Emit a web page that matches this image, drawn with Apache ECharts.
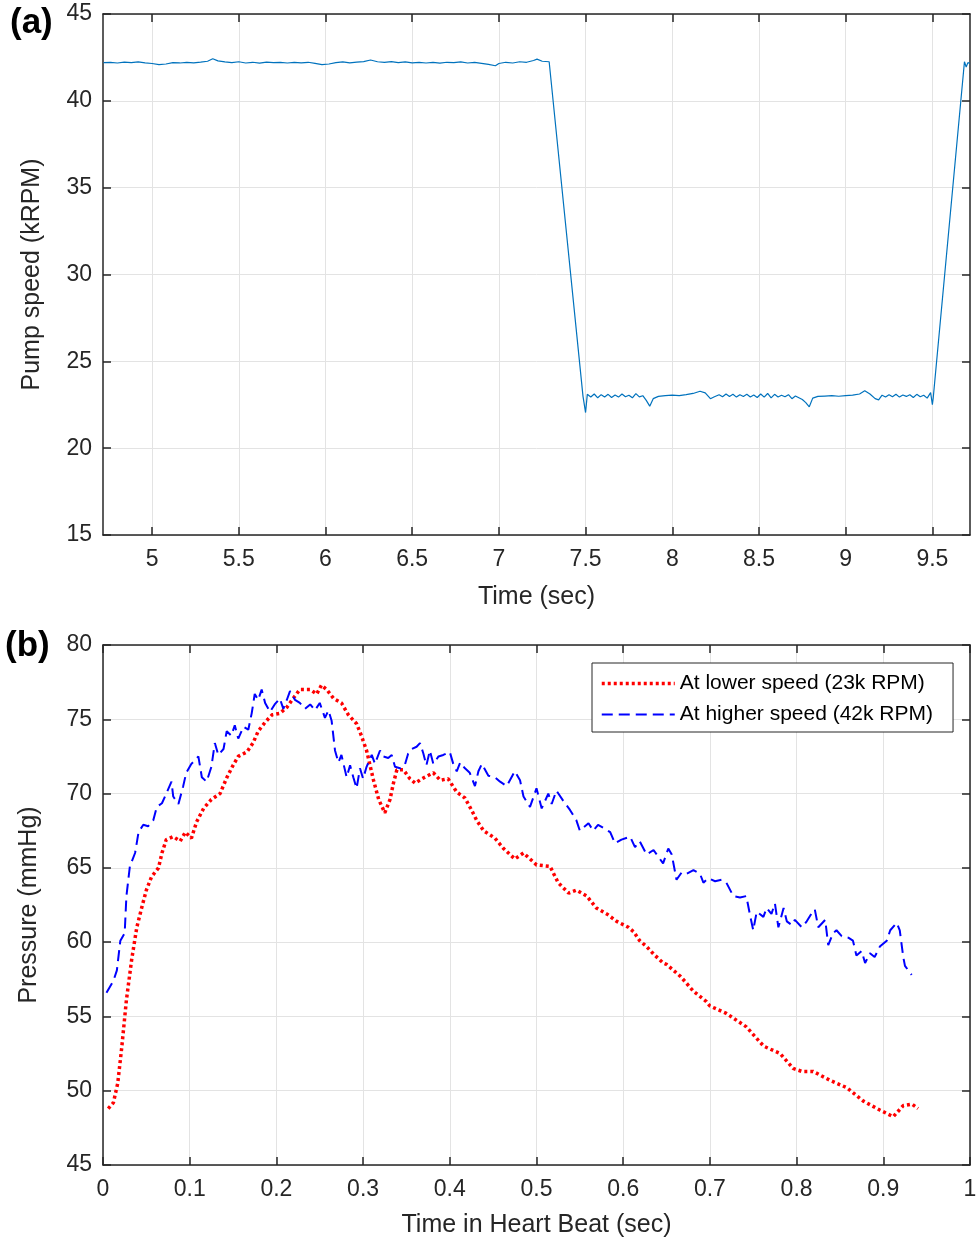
<!DOCTYPE html>
<html>
<head>
<meta charset="utf-8">
<script src="https://cdn.jsdelivr.net/npm/echarts@6/dist/echarts.min.js"></script>
<style>html,body{margin:0;padding:0;background:#fff}#c{width:980px;height:1248px}</style>
</head>
<body>
<div id="c"></div>
<script>
// ---- Panel (a): pump speed ----
const speedTime = [4.72,4.76,4.80,4.84,4.88,4.92,4.96,5.00,5.04,5.08,5.12,5.16,5.20,5.24,5.28,5.32,5.35,5.38,5.42,5.46,5.50,5.54,5.58,5.62,5.66,5.70,5.74,5.78,5.82,5.86,5.90,5.94,5.98,6.02,6.06,6.10,6.14,6.18,6.22,6.26,6.30,6.34,6.38,6.42,6.46,6.50,6.54,6.58,6.62,6.66,6.70,6.74,6.78,6.82,6.86,6.90,6.94,6.98,7.00,7.04,7.08,7.12,7.16,7.20,7.22,7.25,7.29,
7.485,7.50,7.51,7.53,7.55,7.57,7.59,7.61,7.63,7.65,7.67,7.69,7.71,7.73,7.75,7.77,7.79,7.81,7.83,7.85,7.87,7.89,7.92,7.96,8.00,8.04,8.08,8.12,8.16,8.19,8.22,8.24,8.27,8.29,8.31,8.33,8.35,8.37,8.39,8.41,8.43,8.45,8.47,8.49,8.51,8.53,8.55,8.57,8.59,8.61,8.63,8.65,8.67,8.69,8.71,8.75,8.77,8.79,8.81,8.84,8.88,8.92,8.96,9.00,9.04,9.08,9.11,9.14,9.17,9.19,9.21,9.23,9.25,9.27,9.29,9.31,9.33,9.35,9.37,9.39,9.41,9.43,9.45,9.47,9.49,9.50,9.505,
9.685,9.695,9.705,9.717];
const speedValue = [42.20,42.22,42.18,42.23,42.20,42.24,42.19,42.15,42.08,42.12,42.20,42.18,42.22,42.19,42.23,42.28,42.42,42.30,42.24,42.20,42.25,42.18,42.22,42.17,42.23,42.20,42.22,42.18,42.21,42.19,42.22,42.16,42.08,42.12,42.20,42.24,42.19,42.23,42.26,42.35,42.25,42.22,42.26,42.20,42.24,42.19,42.22,42.18,42.21,42.17,42.22,42.20,42.24,42.18,42.21,42.16,42.10,42.02,42.15,42.22,42.18,42.25,42.22,42.32,42.40,42.28,42.25,
23.00,22.05,23.10,22.95,23.12,22.90,23.08,22.95,23.10,22.92,23.06,22.94,23.12,22.96,23.05,22.90,23.14,22.95,23.02,22.75,22.42,22.85,22.98,23.02,23.05,23.03,23.08,23.15,23.28,23.18,22.85,22.95,23.08,22.96,23.12,22.98,23.10,22.94,23.08,22.98,23.10,22.95,23.06,22.92,23.12,22.94,23.15,22.90,23.10,22.95,23.05,22.96,23.08,22.85,23.00,22.80,22.62,22.38,22.88,22.98,23.00,23.02,22.99,23.03,23.05,23.12,23.30,23.12,22.85,22.78,23.05,22.95,23.08,22.96,23.10,22.94,23.06,22.98,23.08,22.92,23.10,22.96,23.05,22.88,23.20,22.50,22.90,
42.25,41.95,42.20,42.15];
const speedTicks = [5,5.5,6,6.5,7,7.5,8,8.5,9,9.5];

// ---- Panel (b): pressure ----
const lowTime = [0.006,0.012,0.017,0.0216,0.027,0.033,0.039,0.045,0.050,0.056,0.064,0.068,0.073,0.081,0.089,0.095,0.102,0.108,0.116,0.125,0.135,0.143,0.150,0.156,0.166,0.173,0.179,0.187,0.195,0.204,0.212,0.218,0.227,0.239,0.2465,0.252,0.258,0.266,0.275,0.283,0.2925,0.298,0.304,0.308,0.312,0.318,0.325,0.331,0.335,0.339,0.3465,0.354,0.360,0.368,0.381,0.389,0.398,0.408,0.4175,0.425,0.431,0.439,0.452,0.462,0.475,0.485,0.500,0.5156,0.525,0.537,0.546,0.558,0.569,0.581,0.5925,0.606,0.612,0.619,0.627,0.635,0.646,0.650,0.666,0.681,0.696,0.700,0.719,0.742,0.762,0.781,0.796,0.806,0.819,0.8385,0.858,0.877,0.896,0.9115,0.923,0.933,0.940];
const lowValue = [48.8,49.2,50.5,52.9,56.1,58.8,61.0,62.4,63.5,64.4,65.0,66.0,66.9,67.1,66.8,67.4,67.0,68.1,69.0,69.6,70.0,71.1,71.9,72.5,72.8,73.4,74.2,74.8,75.3,75.4,75.8,76.3,77.0,77.0,76.7,77.3,77.0,76.4,76.1,75.3,74.7,73.9,72.9,71.9,70.9,69.6,68.7,69.6,70.7,71.6,71.6,71.0,70.7,71.0,71.4,70.9,71.0,70.1,69.7,68.9,68.2,67.5,67.0,66.3,65.6,66.0,65.2,65.1,64.0,63.3,63.5,63.1,62.3,61.9,61.4,61.0,60.7,60.1,59.7,59.2,58.6,58.5,57.7,56.7,56.0,55.7,55.2,54.3,53.0,52.5,51.5,51.3,51.3,50.7,50.2,49.3,48.7,48.25,49.0,49.1,48.8];

const highTime = [0.004,0.012,0.016,0.020,0.025,0.027,0.031,0.037,0.041,0.0465,0.052,0.058,0.062,0.068,0.073,0.079,0.081,0.087,0.0925,0.096,0.102,0.110,0.114,0.1195,0.125,0.129,0.133,0.139,0.1427,0.148,0.152,0.156,0.162,0.1676,0.1715,0.175,0.179,0.183,0.187,0.1926,0.198,0.204,0.208,0.212,0.2157,0.2215,0.227,0.233,0.239,0.2445,0.250,0.256,0.260,0.2637,0.2676,0.2715,0.275,0.281,0.285,0.2887,0.2925,0.2964,0.300,0.304,0.310,0.3137,0.3195,0.323,0.329,0.333,0.3368,0.3426,0.348,0.352,0.356,0.3617,0.3656,0.3695,0.373,0.377,0.381,0.387,0.3925,0.400,0.404,0.408,0.412,0.4175,0.423,0.429,0.433,0.437,0.4445,0.452,0.458,0.4656,0.475,0.481,0.485,0.4925,0.500,0.506,0.5136,0.5175,0.523,0.531,0.5386,0.546,0.550,0.560,0.5655,0.571,0.577,0.585,0.5905,0.598,0.608,0.6136,0.619,0.627,0.635,0.6405,0.646,0.652,0.656,0.6615,0.6675,0.673,0.681,0.6886,0.6925,0.698,0.706,0.7135,0.719,0.727,0.7347,0.742,0.746,0.750,0.754,0.7617,0.7655,0.771,0.775,0.779,0.785,0.7887,0.7945,0.798,0.806,0.8117,0.817,0.821,0.825,0.833,0.8365,0.842,0.846,0.852,0.8596,0.865,0.869,0.875,0.879,0.8846,0.890,0.896,0.904,0.908,0.9155,0.919,0.923,0.925,0.9327];
const highValue = [56.6,57.4,58.1,60.1,60.6,63.1,65.1,66.0,67.4,67.9,67.8,68.2,69.1,69.35,70.0,70.8,69.8,69.3,70.5,71.4,72.0,72.5,71.1,70.8,71.8,73.4,72.6,73.0,74.2,73.9,74.6,73.7,74.5,74.3,75.4,76.7,76.3,77.0,76.1,75.5,76.0,76.4,75.7,76.3,76.9,76.3,76.1,75.7,76.0,75.6,76.1,75.1,75.6,74.9,72.9,72.1,72.6,71.1,71.9,71.1,70.35,71.7,71.0,71.8,72.6,72.0,72.9,72.5,72.4,72.6,71.8,71.7,71.9,72.7,73.0,73.15,73.4,72.7,71.9,72.9,72.0,72.5,72.6,72.8,72.0,71.5,72.1,71.7,71.4,70.5,71.5,72.0,71.2,71.1,70.8,70.5,71.5,70.9,69.8,69.1,70.35,69.0,70.0,69.3,70.2,69.5,68.9,68.2,67.5,68.0,67.5,67.9,67.7,67.4,66.65,66.9,67.1,66.4,66.8,65.9,66.2,65.75,65.3,66.3,65.9,64.2,64.7,64.6,64.85,64.6,64.0,64.3,64.1,64.2,64.0,63.1,63.0,63.1,61.9,60.8,62.05,61.7,62.3,61.9,62.6,61.0,62.3,61.4,61.15,61.5,61.0,61.4,61.9,62.2,61.0,61.5,59.8,60.6,60.8,60.4,60.3,60.1,59.1,59.4,58.6,59.25,59.0,59.7,60.1,60.8,61.3,60.8,59.0,58.4,57.8];

const seriesNames = ['At lower speed (23k RPM)', 'At higher speed (42k RPM)'];

const FONT = "'Liberation Sans', Arial, Helvetica, sans-serif";
const AX = '#262626';
const GRIDC = '#e3e3e3';
const lowStyle = {color:'#ff0000', width:3.5, type:[3,3]};
const highStyle = {color:'#0000ff', width:2, type:[11,6]};

function pairs(xs, ys){ return xs.map((x,i)=>[x, ys[i]]); }

function mainX(gi, opts){
  return Object.assign({
    type:'value', gridIndex:gi, position:'bottom',
    axisLine:{show:true, onZero:false, lineStyle:{color:AX, width:1.5}},
    axisTick:{show:true, inside:true, length:8, lineStyle:{color:AX, width:1.5}},
    axisLabel:{color:AX, fontSize:23, fontFamily:FONT, margin:13},
    splitLine:{show:true, lineStyle:{color:GRIDC, width:1}},
    nameLocation:'middle', nameTextStyle:{color:AX, fontSize:25, fontFamily:FONT}
  }, opts);
}
function mirrorX(gi, opts){
  return Object.assign({
    type:'value', gridIndex:gi, position:'top',
    axisLine:{show:true, onZero:false, lineStyle:{color:AX, width:1.5}},
    axisTick:{show:true, inside:true, length:8, lineStyle:{color:AX, width:1.5}},
    axisLabel:{show:false}, splitLine:{show:false}
  }, opts);
}
function mainY(gi, opts){
  return Object.assign({
    type:'value', gridIndex:gi, position:'left',
    axisLine:{show:true, onZero:false, lineStyle:{color:AX, width:1.5}},
    axisTick:{show:true, inside:true, length:8, lineStyle:{color:AX, width:1.5}},
    axisLabel:{color:AX, fontSize:23, fontFamily:FONT, margin:11},
    splitLine:{show:true, lineStyle:{color:GRIDC, width:1}},
    nameLocation:'middle', nameRotate:90, nameTextStyle:{color:AX, fontSize:25, fontFamily:FONT}
  }, opts);
}
function mirrorY(gi, opts){
  return Object.assign({
    type:'value', gridIndex:gi, position:'right',
    axisLine:{show:true, onZero:false, lineStyle:{color:AX, width:1.5}},
    axisTick:{show:true, inside:true, length:8, lineStyle:{color:AX, width:1.5}},
    axisLabel:{show:false}, splitLine:{show:false}
  }, opts);
}

const chart = echarts.init(document.getElementById('c'), null, {renderer:'canvas'});
chart.setOption({
  animation:false,
  backgroundColor:'#fff',
  grid:[
    {left:103, right:10, top:14, height:521},
    {left:103, right:10, top:645, height:520}
  ],
  xAxis:[
    mainX(0, {min:4.717, max:9.717, name:'Time (sec)', nameGap:50,
      axisTick:{show:true, inside:true, length:8, customValues:speedTicks, lineStyle:{color:AX, width:1.5}},
      axisLabel:{color:AX, fontSize:23, fontFamily:FONT, margin:13, customValues:speedTicks}}),
    mirrorX(0, {min:4.717, max:9.717,
      axisTick:{show:true, inside:true, length:8, customValues:speedTicks, lineStyle:{color:AX, width:1.5}}}),
    mainX(1, {min:0, max:1, interval:0.1, name:'Time in Heart Beat (sec)', nameGap:48}),
    mirrorX(1, {min:0, max:1, interval:0.1})
  ],
  yAxis:[
    mainY(0, {min:15, max:45, interval:5, name:'Pump speed (kRPM)', nameGap:58}),
    mirrorY(0, {min:15, max:45, interval:5}),
    mainY(1, {min:45, max:80, interval:5, name:'Pressure (mmHg)', nameGap:61}),
    mirrorY(1, {min:45, max:80, interval:5})
  ],
  legend:{
    orient:'vertical', left:592, top:663,
    data:[
      {name:seriesNames[0], lineStyle:lowStyle},
      {name:seriesNames[1], lineStyle:highStyle}
    ],
    itemWidth:73, itemHeight:12, itemGap:10,
    padding:[10,20,7,8],
    itemStyle:{opacity:0},
    borderColor:AX, borderWidth:1, backgroundColor:'#fff',
    textStyle:{fontSize:21, color:'#000', fontFamily:FONT}
  },
  graphic:[
    {type:'text', left:10, top:6, style:{text:'(a)', font:"bold 35px 'Liberation Sans', Arial, sans-serif", fill:'#000'}},
    {type:'text', left:5, top:629, style:{text:'(b)', font:"bold 35px 'Liberation Sans', Arial, sans-serif", fill:'#000'}}
  ],
  series:[
    {type:'line', xAxisIndex:0, yAxisIndex:0, data:pairs(speedTime, speedValue),
      symbol:'none', silent:true, lineStyle:{color:'#0072BD', width:1.2}},
    {type:'line', name:seriesNames[0], xAxisIndex:2, yAxisIndex:2, data:pairs(lowTime, lowValue),
      symbol:'none', silent:true, itemStyle:{color:'#ff0000'}, lineStyle:lowStyle},
    {type:'line', name:seriesNames[1], xAxisIndex:2, yAxisIndex:2, data:pairs(highTime, highValue),
      symbol:'none', silent:true, itemStyle:{color:'#0000ff'}, lineStyle:highStyle}
  ]
});
</script>
</body>
</html>
